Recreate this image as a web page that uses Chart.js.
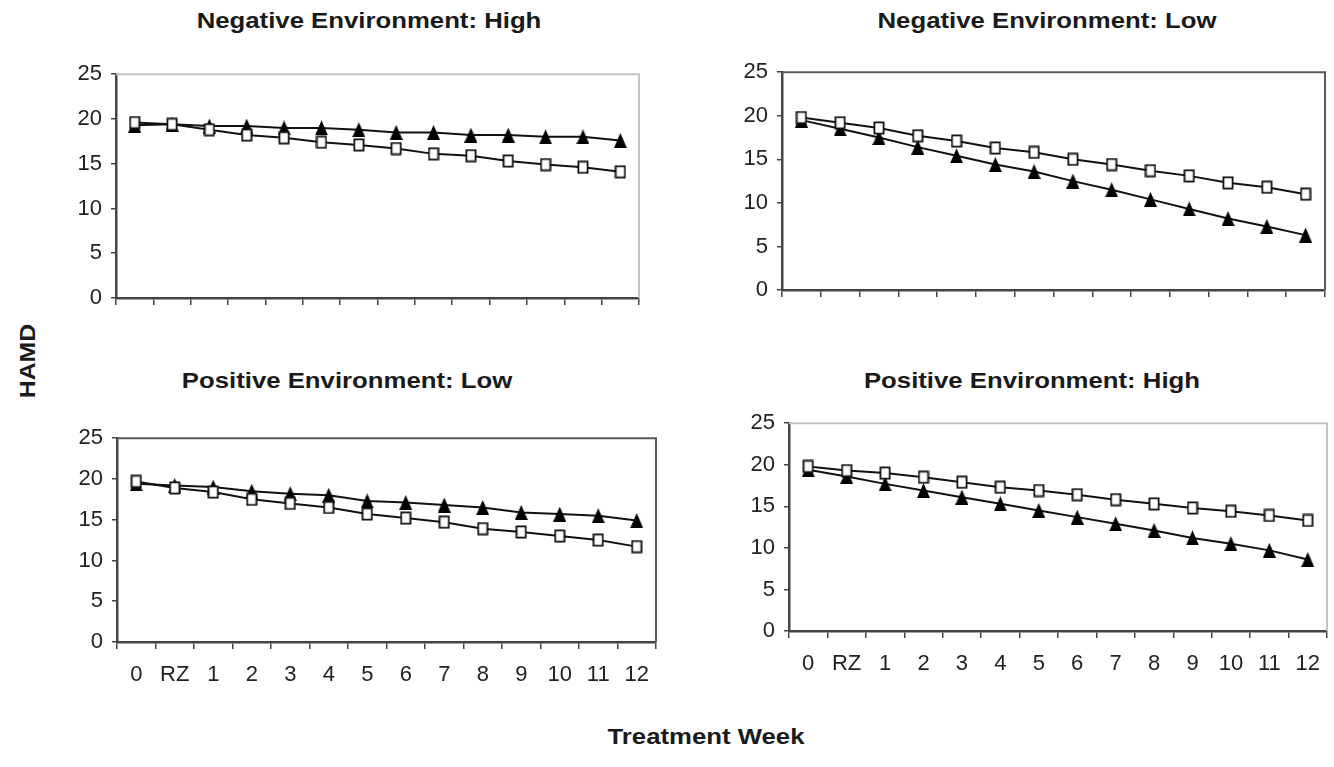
<!DOCTYPE html>
<html>
<head>
<meta charset="utf-8">
<script src="https://cdn.jsdelivr.net/npm/chart.js@4/dist/chart.umd.min.js"></script>
<style>
  body { margin: 0; background: #fff; width: 1334px; height: 767px; position: relative; overflow: hidden; }
  canvas { position: absolute; }
  .lbl { position: absolute; font: bold 22px 'Liberation Sans', Arial, sans-serif; line-height: 22px; color: #1a1a1a; text-align: center; white-space: nowrap; }
</style>
</head>
<body>
<canvas id="negHigh"></canvas>
<canvas id="negLow"></canvas>
<canvas id="posLow"></canvas>
<canvas id="posHigh"></canvas>

<div class="lbl" style="left:69px;top:10px;width:600px;transform:scaleX(1.17)">Negative Environment: High</div>
<div class="lbl" style="left:747px;top:10px;width:600px;transform:scaleX(1.17)">Negative Environment: Low</div>
<div class="lbl" style="left:47px;top:370px;width:600px;transform:scaleX(1.17)">Positive Environment: Low</div>
<div class="lbl" style="left:732px;top:370px;width:600px;transform:scaleX(1.17)">Positive Environment: High</div>
<div class="lbl" style="left:-72px;top:350px;width:200px;transform:rotate(-90deg) scaleX(1.13)">HAMD</div>
<div class="lbl" style="left:406px;top:726px;width:600px;transform:scaleX(1.17)">Treatment Week</div>

<script>
const weeks = ['0', 'RZ', '1', '2', '3', '4', '5', '6', '7', '8', '9', '10', '11', '12'];
const yTicks = [0, 5, 10, 15, 20, 25];

const negHighSquare = [19.6, 19.4, 18.8, 18.2, 17.9, 17.4, 17.1, 16.7, 16.1, 15.9, 15.3, 14.9, 14.6, 14.1];
const negHighTriangle = [19.3, 19.4, 19.2, 19.2, 19.0, 19.0, 18.8, 18.5, 18.5, 18.2, 18.2, 18.0, 18.0, 17.6];

const negLowSquare = [19.8, 19.2, 18.6, 17.7, 17.1, 16.3, 15.8, 15.0, 14.4, 13.7, 13.1, 12.3, 11.8, 11.0];
const negLowTriangle = [19.5, 18.5, 17.5, 16.4, 15.4, 14.4, 13.6, 12.5, 11.5, 10.4, 9.3, 8.2, 7.3, 6.3];

const posLowSquare = [19.7, 18.9, 18.4, 17.5, 17.0, 16.5, 15.7, 15.2, 14.7, 13.9, 13.5, 13.0, 12.5, 11.7];
const posLowTriangle = [19.4, 19.2, 19.0, 18.5, 18.2, 18.0, 17.3, 17.1, 16.8, 16.5, 15.9, 15.7, 15.5, 14.9];

const posHighSquare = [19.8, 19.3, 19.0, 18.5, 17.9, 17.3, 16.9, 16.4, 15.8, 15.3, 14.8, 14.4, 13.9, 13.3];
const posHighTriangle = [19.4, 18.6, 17.7, 16.9, 16.1, 15.3, 14.5, 13.7, 12.9, 12.1, 11.2, 10.5, 9.7, 8.6];

Chart.defaults.font.family = "'Liberation Sans', Arial, sans-serif";
Chart.defaults.font.size = 22;
Chart.defaults.color = '#222';

// hollow square marker, a bit taller than wide like the original
function squareMarker() {
    const c = document.createElement('canvas');
    c.width = 12; c.height = 14;
    const g = c.getContext('2d');
    g.fillStyle = '#fff';
    g.fillRect(1, 1, 10, 12);
    g.strokeStyle = '#111';
    g.lineWidth = 1.8;
    g.strokeRect(1.4, 1.4, 9.2, 11.2);
    return c;
}

function triangleMarker() {
    const c = document.createElement('canvas');
    c.width = 13; c.height = 15;
    const g = c.getContext('2d');
    g.fillStyle = '#000';
    g.beginPath();
    g.moveTo(6.5, 0);
    g.lineTo(13, 15);
    g.lineTo(0, 15);
    g.closePath();
    g.fill();
    return c;
}

const sq = squareMarker();
const tri = triangleMarker();

// top and right edge of the plot box
const framePlugin = {
    id: 'frame',
    beforeDatasetsDraw(chart, args, opts) {
        const a = chart.chartArea;
        const ctx = chart.ctx;
        ctx.save();
        ctx.strokeStyle = opts.color;
        ctx.lineWidth = 2;
        ctx.beginPath();
        ctx.moveTo(a.left, a.top);
        ctx.lineTo(a.right, a.top);
        ctx.lineTo(a.right, a.bottom);
        ctx.stroke();
        ctx.restore();
    }
};

const Y_W = 70, X_H = 50, PAD_T = 15, PAD_R = 15;

function panel(id, box, squares, triangles, showX, frameColor) {
    const cv = document.getElementById(id);
    const w = box.right - box.left + Y_W + PAD_R;
    const h = box.bottom - box.top + PAD_T + X_H;
    cv.width = w; cv.height = h;
    cv.style.left = (box.left - Y_W) + 'px';
    cv.style.top = (box.top - PAD_T) + 'px';
    cv.style.width = w + 'px';
    cv.style.height = h + 'px';

    return new Chart(cv.getContext('2d'), {
        type: 'line',
        data: {
            labels: weeks,
            datasets: [{
                data: squares,
                borderColor: '#111',
                borderWidth: 2,
                pointStyle: sq,
                tension: 0
            }, {
                data: triangles,
                borderColor: '#111',
                borderWidth: 2,
                pointStyle: tri,
                tension: 0
            }]
        },
        options: {
            responsive: false,
            animation: false,
            layout: { padding: { top: PAD_T, right: PAD_R, left: 0, bottom: 0 } },
            plugins: {
                legend: { display: false },
                tooltip: { enabled: false },
                frame: { color: frameColor }
            },
            scales: {
                x: {
                    type: 'category',
                    offset: true,
                    grid: {
                        offset: true,
                        drawOnChartArea: false,
                        drawTicks: true,
                        tickLength: 7,
                        color: '#444',
                        lineWidth: 1.5
                    },
                    border: { color: '#444', width: 2.5 },
                    ticks: {
                        display: showX,
                        autoSkip: false,
                        maxRotation: 0,
                        minRotation: 0,
                        padding: 13
                    },
                    afterFit(scale) { scale.height = X_H; }
                },
                y: {
                    min: yTicks[0],
                    max: yTicks[yTicks.length - 1],
                    afterBuildTicks(scale) { scale.ticks = yTicks.map(v => ({ value: v })); },
                    grid: {
                        drawOnChartArea: false,
                        tickLength: 5,
                        color: '#444',
                        lineWidth: 1.5
                    },
                    border: { color: '#444', width: 2.5 },
                    ticks: { padding: 9 },
                    afterFit(scale) { scale.width = Y_W; }
                }
            }
        },
        plugins: [framePlugin]
    });
}

panel('negHigh', { left: 116, right: 639, top: 67, bottom: 298 }, negHighSquare, negHighTriangle, false, '#c4c4c4');
panel('negLow', { left: 782, right: 1325, top: 65, bottom: 290 }, negLowSquare, negLowTriangle, false, '#5a5a5a');
panel('posLow', { left: 117, right: 656, top: 431, bottom: 642 }, posLowSquare, posLowTriangle, true, '#5a5a5a');
panel('posHigh', { left: 789, right: 1327, top: 416, bottom: 631 }, posHighSquare, posHighTriangle, true, '#c4c4c4');
</script>
</body>
</html>
